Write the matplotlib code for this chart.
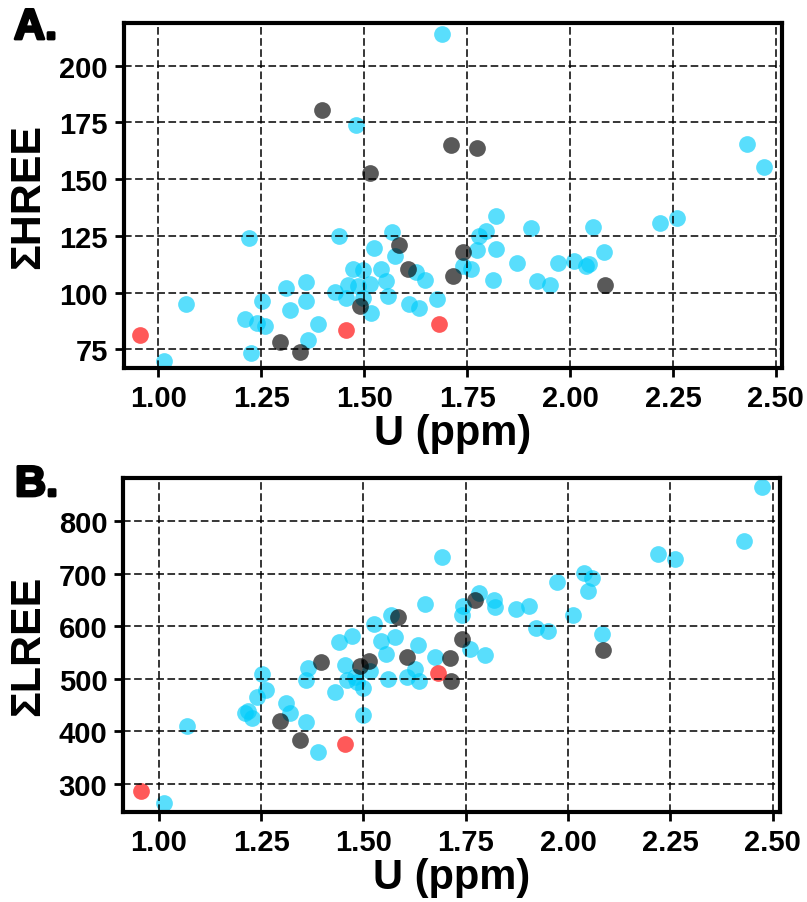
import matplotlib
matplotlib.use("Agg")
import matplotlib.pyplot as plt
import matplotlib.patheffects as pe

plt.rcParams['font.family'] = ['Liberation Sans', 'DejaVu Sans']
plt.rcParams['font.weight'] = 'bold'
plt.rcParams['lines.scale_dashes'] = False

### red samples (same U in both panels)
u_red = [0.956, 1.456, 1.682]
hree_red = [81.2, 83.5, 86.1]
lree_red = [286.9, 375.8, 510.5]

### dark grey samples
u_grey = [1.295, 1.344, 1.397, 1.491, 1.514, 1.584, 1.606, 1.711, 1.715, 1.741, 1.773, 2.086]
hree_grey = [78.3, 74.0, 180.6, 94.1, 152.5, 121.0, 110.3, 165.0, 107.1, 118.1, 163.5, 103.4]
lree_grey = [420.2, 384.0, 532.6, 524.9, 534.5, 618.3, 541.0, 539.6, 496.4, 575.8, 650.7, 554.9]

### cyan samples, panel A
u_cyan_a = [1.015, 1.068, 1.211, 1.221, 1.226, 1.241, 1.253, 1.259, 1.310, 1.319,
            1.358, 1.358, 1.364, 1.388, 1.430, 1.440, 1.455, 1.461, 1.473, 1.481,
            1.484, 1.498, 1.498, 1.515, 1.517, 1.524, 1.541, 1.553, 1.559, 1.567,
            1.576, 1.608, 1.626, 1.634, 1.648, 1.677, 1.690, 1.740, 1.760, 1.774,
            1.780, 1.797, 1.814, 1.820, 1.820, 1.871, 1.905, 1.920, 1.952, 1.971,
            2.009, 2.039, 2.047, 2.056, 2.082, 2.218, 2.260, 2.429, 2.471]
hree_cyan = [69.9, 94.9, 88.3, 123.9, 73.6, 86.5, 96.3, 85.3, 102.2, 92.4,
             104.5, 96.3, 79.0, 86.1, 100.3, 125.0, 97.8, 103.4, 110.6, 173.8,
             103.0, 110.0, 97.8, 103.7, 91.2, 119.5, 110.6, 105.0, 98.5, 126.5,
             116.2, 94.9, 108.9, 93.2, 105.6, 97.1, 214.1, 111.8, 110.3, 118.7,
             125.0, 127.2, 105.5, 133.6, 119.1, 113.0, 128.4, 104.9, 103.4, 113.0,
             114.0, 111.8, 112.8, 128.9, 118.1, 130.6, 132.7, 165.3, 155.2]

### cyan samples, panel B
u_cyan_b = [1.013, 1.068, 1.210, 1.218, 1.228, 1.240, 1.253, 1.261, 1.310, 1.320,
            1.359, 1.359, 1.364, 1.389, 1.430, 1.441, 1.455, 1.459, 1.473, 1.479,
            1.485, 1.498, 1.499, 1.516, 1.526, 1.542, 1.554, 1.559, 1.567, 1.577,
            1.607, 1.626, 1.634, 1.636, 1.650, 1.676, 1.692, 1.740, 1.744, 1.760,
            1.783, 1.798, 1.820, 1.821, 1.873, 1.905, 1.922, 1.952, 1.972, 2.011,
            2.040, 2.048, 2.059, 2.084, 2.221, 2.262, 2.430, 2.473]
lree_cyan = [262.9, 410.7, 434.3, 439.2, 424.8, 464.8, 509.1, 479.3, 453.3, 434.9,
             418.3, 497.7, 520.0, 361.2, 475.4, 570.7, 526.9, 498.3, 582.1, 502.9,
             493.3, 482.5, 431.6, 515.4, 604.4, 572.6, 547.2, 499.6, 621.5, 579.0,
             502.9, 518.7, 564.4, 496.4, 642.5, 542.1, 732.6, 622.1, 639.2, 556.8,
             662.8, 545.9, 650.1, 636.2, 632.9, 639.2, 596.8, 590.5, 683.8, 622.1,
             701.0, 666.7, 692.0, 585.3, 737.7, 728.2, 763.0, 864.8]

x_ticks = [1.00, 1.25, 1.50, 1.75, 2.00, 2.25, 2.50]
hree_ticks = [75, 100, 125, 150, 175, 200]
lree_ticks = [300, 400, 500, 600, 700, 800]

cyan = '#00cdfb'
alpha = 0.65
msize = 145


def style_axis(ax, xlim, ylim, yticks, ylabel, xlabel_y):
    ax.set_xlim(*xlim)
    ax.set_ylim(*ylim)
    ax.set_xticks(x_ticks)
    ax.set_xticklabels(['%.2f' % t for t in x_ticks])
    ax.set_yticks(yticks)
    ax.grid(True, color='black', linestyle=(0, (5.5, 2.5)), linewidth=1.1)
    for s in ax.spines.values():
        s.set_linewidth(3)
    ax.tick_params(labelsize=21, width=2, length=6.5, pad=5)
    ax.set_xlabel('U (ppm)', fontsize=30, fontweight='bold')
    ax.xaxis.set_label_coords(0.5, xlabel_y)
    ax.xaxis.label.set_va('baseline')
    ax.set_ylabel(ylabel, fontsize=31, fontweight='bold')
    ax.yaxis.set_label_coords(-0.115, 0.5)


fig = plt.figure(figsize=(8.07, 9.03), dpi=100)

ax1 = fig.add_axes([0.1537, 0.5914, 0.8154, 0.3821])
ax1.scatter(u_cyan_a, hree_cyan, s=msize, color=cyan, alpha=alpha, linewidths=0)
ax1.scatter(u_grey, hree_grey, s=msize, color='black', alpha=alpha, linewidths=0)
ax1.scatter(u_red, hree_red, s=msize, color='red', alpha=alpha, linewidths=0)
style_axis(ax1, (0.917, 2.515), (66.8, 218.8), hree_ticks, '\u03a3HREE', -0.22)

ax2 = fig.add_axes([0.1528, 0.0993, 0.8137, 0.3699])
ax2.scatter(u_cyan_b, lree_cyan, s=msize, color=cyan, alpha=alpha, linewidths=0)
ax2.scatter(u_grey, lree_grey, s=msize, color='black', alpha=alpha, linewidths=0)
ax2.scatter(u_red, lree_red, s=msize, color='red', alpha=alpha, linewidths=0)
style_axis(ax2, (0.913, 2.518), (245.5, 882), lree_ticks, '\u03a3LREE', -0.228)

heavy = [pe.withStroke(linewidth=2, foreground='black')]
fig.text(14 / 807, 1 - 40 / 903, 'A.', fontsize=31, fontweight='bold', va='baseline', path_effects=heavy)
fig.text(15 / 807, 1 - 497 / 903, 'B.', fontsize=31, fontweight='bold', va='baseline', path_effects=heavy)

plt.savefig('out.png', dpi=100)
